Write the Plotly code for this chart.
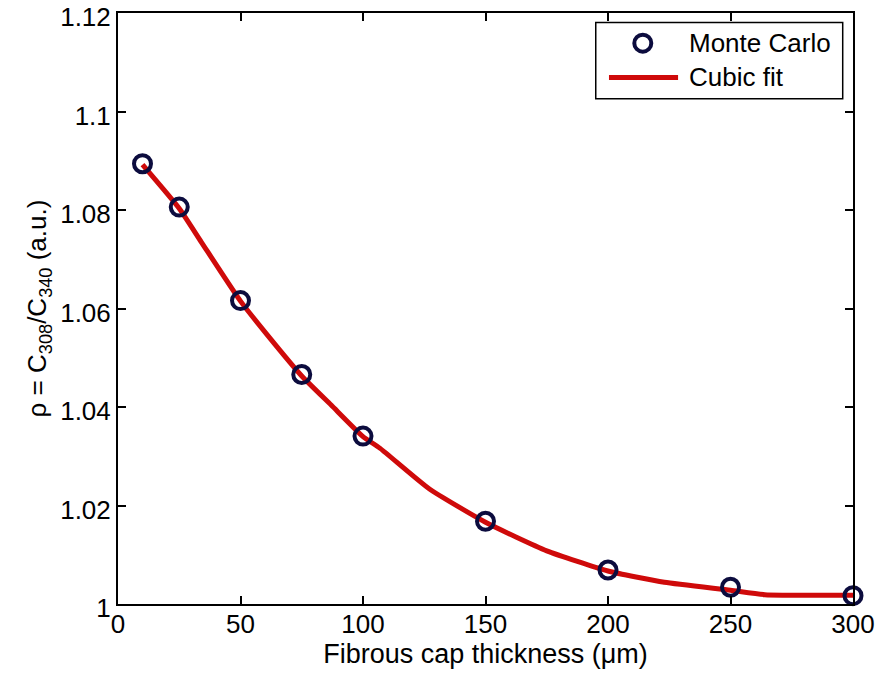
import plotly.graph_objects as go

# Monte Carlo simulation results
thickness_um = [10, 25, 50, 75, 100, 150, 200, 250, 300]
rho_mc = [1.0894, 1.0806, 1.0616, 1.0466, 1.0341, 1.0168, 1.0069, 1.0034, 1.0017]

# Cubic fit curve
fit_thickness = [10, 25, 34, 50, 61, 75, 87, 100, 107, 127, 150, 175, 200, 223, 250, 264, 300]
fit_rho = [1.0892, 1.0803, 1.0735, 1.0615, 1.0546, 1.0463, 1.0404, 1.0340, 1.0316,
           1.0234, 1.0166, 1.0108, 1.0067, 1.0044, 1.0028, 1.0019, 1.0018]

x_ticks = [0, 50, 100, 150, 200, 250, 300]
y_ticks = [1.0, 1.02, 1.04, 1.06, 1.08, 1.10, 1.12]
y_tick_text = ["1", "1.02", "1.04", "1.06", "1.08", "1.1", "1.12"]

legend_labels = ["Monte Carlo", "Cubic fit"]

MARKER_COLOR = "#0c0c3e"
FIT_COLOR = "#cf0a0a"
FONT = "Liberation Sans, Arial, sans-serif"

fig = go.Figure()

fig.add_trace(go.Scatter(
    x=fit_thickness, y=fit_rho, mode="lines",
    line=dict(color=FIT_COLOR, width=5, shape="spline", smoothing=0.5),
    showlegend=False, cliponaxis=False,
))
fig.add_trace(go.Scatter(
    x=thickness_um, y=rho_mc, mode="markers",
    marker=dict(symbol="circle-open", size=17, color=MARKER_COLOR,
                line=dict(width=4, color=MARKER_COLOR)),
    showlegend=False, cliponaxis=False,
))

axis_common = dict(
    showline=True, linecolor="black", linewidth=2, mirror="ticks",
    ticks="inside", ticklen=8, tickwidth=1.5, tickcolor="black",
    showgrid=False, zeroline=False, automargin=False,
    ticklabeloverflow="allow",
    tickfont=dict(family=FONT, size=26, color="black"),
)

fig.update_xaxes(
    range=[0, 300], tickvals=x_ticks, ticklabelstandoff=-4,
    title=dict(text="Fibrous cap thickness (\u03bcm)", font=dict(family=FONT, size=27, color="black"), standoff=4),
    **axis_common,
)
fig.update_yaxes(
    range=[1.0, 1.120001], tickvals=y_ticks, ticktext=y_tick_text, ticklabelshift=4,
    title=dict(text="\u03c1 = C<sub>308</sub>/C<sub>340</sub> (a.u.)", font=dict(family=FONT, size=26, color="black"), standoff=6),
    **axis_common,
)

# Hand-drawn legend box in the upper-right corner
shapes = [
    dict(type="rect", xref="paper", yref="paper", x0=0.650, x1=0.986, y0=0.855, y1=0.984,
         line=dict(color="black", width=1.5), fillcolor="white", layer="above"),
    dict(type="circle", xref="paper", yref="paper", xsizemode="pixel", ysizemode="pixel",
         xanchor=0.714, yanchor=0.949, x0=-8.5, x1=8.5, y0=-8.5, y1=8.5,
         line=dict(color=MARKER_COLOR, width=4), layer="above"),
    dict(type="line", xref="paper", yref="paper", x0=0.668, x1=0.762, y0=0.891, y1=0.891,
         line=dict(color=FIT_COLOR, width=5), layer="above"),
]
annotations = [
    dict(xref="paper", yref="paper", x=0.774, y=0.949, text=legend_labels[0], showarrow=False,
         xanchor="left", yanchor="middle", font=dict(family=FONT, size=26, color="black")),
    dict(xref="paper", yref="paper", x=0.774, y=0.891, text=legend_labels[1], showarrow=False,
         xanchor="left", yanchor="middle", font=dict(family=FONT, size=26, color="black")),
]

fig.update_layout(
    width=879, height=673,
    margin=dict(l=118, r=26, t=13, b=69),
    paper_bgcolor="white", plot_bgcolor="white",
    shapes=shapes, annotations=annotations,
    showlegend=False,
)

fig.write_html("out.html")
